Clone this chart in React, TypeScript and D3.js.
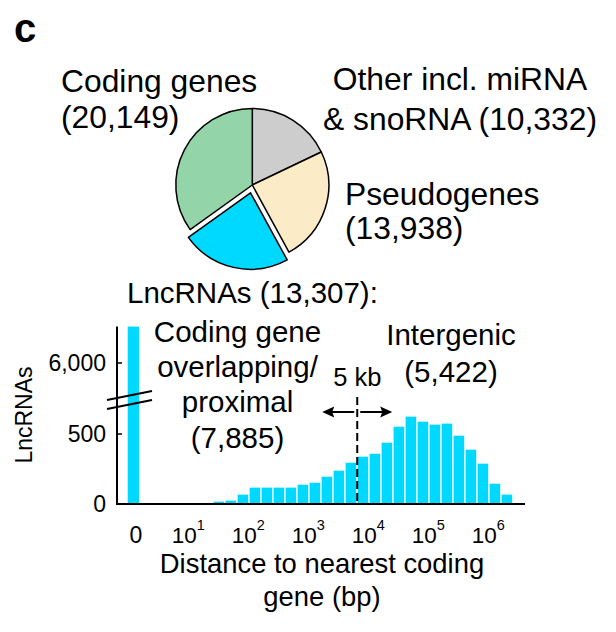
import React from "react";
import * as d3 from "d3";

// ---- Data ----
const pieNames = ["Other", "Pseudogenes", "LncRNAs", "Coding genes"];
const pieValues = [10332, 13938, 13307, 20149];
const pieColors = ["#cdcdcd", "#fbebc6", "#00d9ff", "#94d4a9"];
const explodedSlice = "LncRNAs";

const zeroBinCount = 6260;
const binStartLog = [1.3, 1.5, 1.7, 1.9, 2.1, 2.3, 2.5, 2.7, 2.9, 3.1, 3.3, 3.5, 3.7, 3.9, 4.1, 4.3, 4.5, 4.7, 4.9, 5.1, 5.3, 5.5, 5.7, 5.9, 6.1];
const binWidthLog = 0.2;
const binCounts = [17, 24, 67, 117, 117, 117, 117, 138, 152, 195, 238, 295, 338, 359, 438, 552, 624, 588, 567, 574, 488, 388, 288, 145, 67];
const xTickExponents = [1, 2, 3, 4, 5, 6];
const yTicksLower = [0, 500];
const yTicksUpper = [6000];
const yTickLabels = ["0", "500", "6,000"];
const cutoffBp = 5000;

const FONT = "'Liberation Sans', Arial, Helvetica, sans-serif";
const CYAN = "#00d9ff";

export default function App() {
  // Pie
  const cx = 252.3, cy = 185, r = 76.5;
  const pie = d3.pie<number>().sort(null).value((d) => d)(pieValues);
  const arc = d3.arc<d3.PieArcDatum<number>>().innerRadius(0).outerRadius(r);

  // Histogram scales
  const x = d3.scaleLinear().domain([1.3, 6.3]).range([213.3, 513.3]);
  const yLower = d3.scaleLinear().domain([0, 500]).range([504, 434]);
  const yUpper = d3.scaleLinear().domain([6000, 6260]).range([363, 326.6]);
  const axisX = 117;
  const baseY = yLower(0);
  const cutX = x(Math.log10(cutoffBp));
  const ay = 412;

  return (
    <svg width={616} height={632} style={{ position: "absolute", left: 0, top: 0, background: "#fff" }} fontFamily={FONT}>
      <text x={14} y={42} fontSize={40} fontWeight="bold">c</text>

      {/* Pie */}
      <g transform={`translate(${cx},${cy})`}>
        {pie.map((p, i) => {
          let dx = 0, dy = 0;
          if (pieNames[i] === explodedSlice) {
            const mid = (p.startAngle + p.endAngle) / 2;
            dx = Math.sin(mid) * 8;
            dy = -Math.cos(mid) * 8;
          }
          return (
            <path key={i} d={arc(p) as string} transform={`translate(${dx},${dy})`} fill={pieColors[i]} stroke="#000" strokeWidth={1.5} strokeLinejoin="round" />
          );
        })}
      </g>
      <g fontSize={31.8}>
        <text x={61} y={92}>Coding genes</text>
        <text x={61} y={128}>(20,149)</text>
        <text x={460} y={90} textAnchor="middle">Other incl. miRNA</text>
        <text x={460} y={130} textAnchor="middle">&amp; snoRNA (10,332)</text>
        <text x={345} y={205}>Pseudogenes</text>
        <text x={345} y={239}>(13,938)</text>
      </g>
      <text x={127} y={303} fontSize={29.5}>LncRNAs (13,307):</text>

      {/* Histogram bars */}
      <rect x={127.7} y={yUpper(zeroBinCount)} width={11.3} height={baseY - yUpper(zeroBinCount)} fill={CYAN} />
      {binCounts.map((c, i) => {
        const x0 = x(binStartLog[i]);
        const x1 = x(binStartLog[i] + binWidthLog);
        return <rect key={i} x={x0 + 0.3} y={yLower(c)} width={x1 - x0 - 1.4} height={baseY - yLower(c)} fill={CYAN} />;
      })}

      {/* Axes */}
      <line x1={axisX} y1={326.6} x2={axisX} y2={baseY + 1} stroke="#000" strokeWidth={2} />
      <line x1={axisX - 1} y1={baseY} x2={525} y2={baseY} stroke="#000" strokeWidth={2} />
      {yTicksLower.map((t, i) => (
        <g key={"l" + i}>
          <line x1={axisX} x2={axisX + 5} y1={yLower(t)} y2={yLower(t)} stroke="#000" strokeWidth={1.5} />
          <text x={106} y={yLower(t) + 8} fontSize={23} textAnchor="end">{yTickLabels[i]}</text>
        </g>
      ))}
      {yTicksUpper.map((t, i) => (
        <g key={"u" + i}>
          <line x1={axisX} x2={axisX + 5} y1={yUpper(t)} y2={yUpper(t)} stroke="#000" strokeWidth={1.5} />
          <text x={106} y={yUpper(t) + 8} fontSize={23} textAnchor="end">{yTickLabels[yTicksLower.length + i]}</text>
        </g>
      ))}
      {/* axis break marks */}
      <line x1={107} y1={400} x2={152} y2={391} stroke="#000" strokeWidth={2} />
      <line x1={107} y1={409} x2={152} y2={400} stroke="#000" strokeWidth={2} />

      <text transform="translate(32,415) rotate(-90)" fontSize={23} textAnchor="middle">LncRNAs</text>

      {/* x tick labels */}
      <text x={136} y={543} fontSize={23} textAnchor="middle">0</text>
      {xTickExponents.map((e) => (
        <text key={e} x={x(e) - 7} y={543} fontSize={22.5} textAnchor="middle">
          10<tspan dy={-13} fontSize={14.5}>{e}</tspan>
        </text>
      ))}
      <text x={322} y={573} fontSize={27.4} textAnchor="middle">Distance to nearest coding</text>
      <text x={322} y={606} fontSize={27.4} textAnchor="middle">gene (bp)</text>

      {/* cutoff line & arrows */}
      <line x1={cutX} x2={cutX} y1={397} y2={baseY} stroke="#000" strokeWidth={2} strokeDasharray="8,4" />
      <g stroke="#000" strokeWidth={2}>
        <line x1={cutX - 3} x2={cutX - 28} y1={ay} y2={ay} />
        <line x1={cutX + 3} x2={cutX + 28} y1={ay} y2={ay} />
      </g>
      <g fill="#000">
        <path d={`M${cutX - 35},${ay} L${cutX - 23},${ay - 5.5} L${cutX - 25},${ay} L${cutX - 23},${ay + 5.5} Z`} />
        <path d={`M${cutX + 35},${ay} L${cutX + 23},${ay - 5.5} L${cutX + 25},${ay} L${cutX + 23},${ay + 5.5} Z`} />
      </g>
      <text x={cutX} y={386} fontSize={25.5} textAnchor="middle">5 kb</text>

      <g fontSize={29.5} textAnchor="middle">
        <text x={237.5} y={342}>Coding gene</text>
        <text x={237.5} y={377}>overlapping/</text>
        <text x={237.5} y={412}>proximal</text>
        <text x={237.5} y={448}>(7,885)</text>
        <text x={451} y={345}>Intergenic</text>
        <text x={451} y={382}>(5,422)</text>
      </g>
    </svg>
  );
}
